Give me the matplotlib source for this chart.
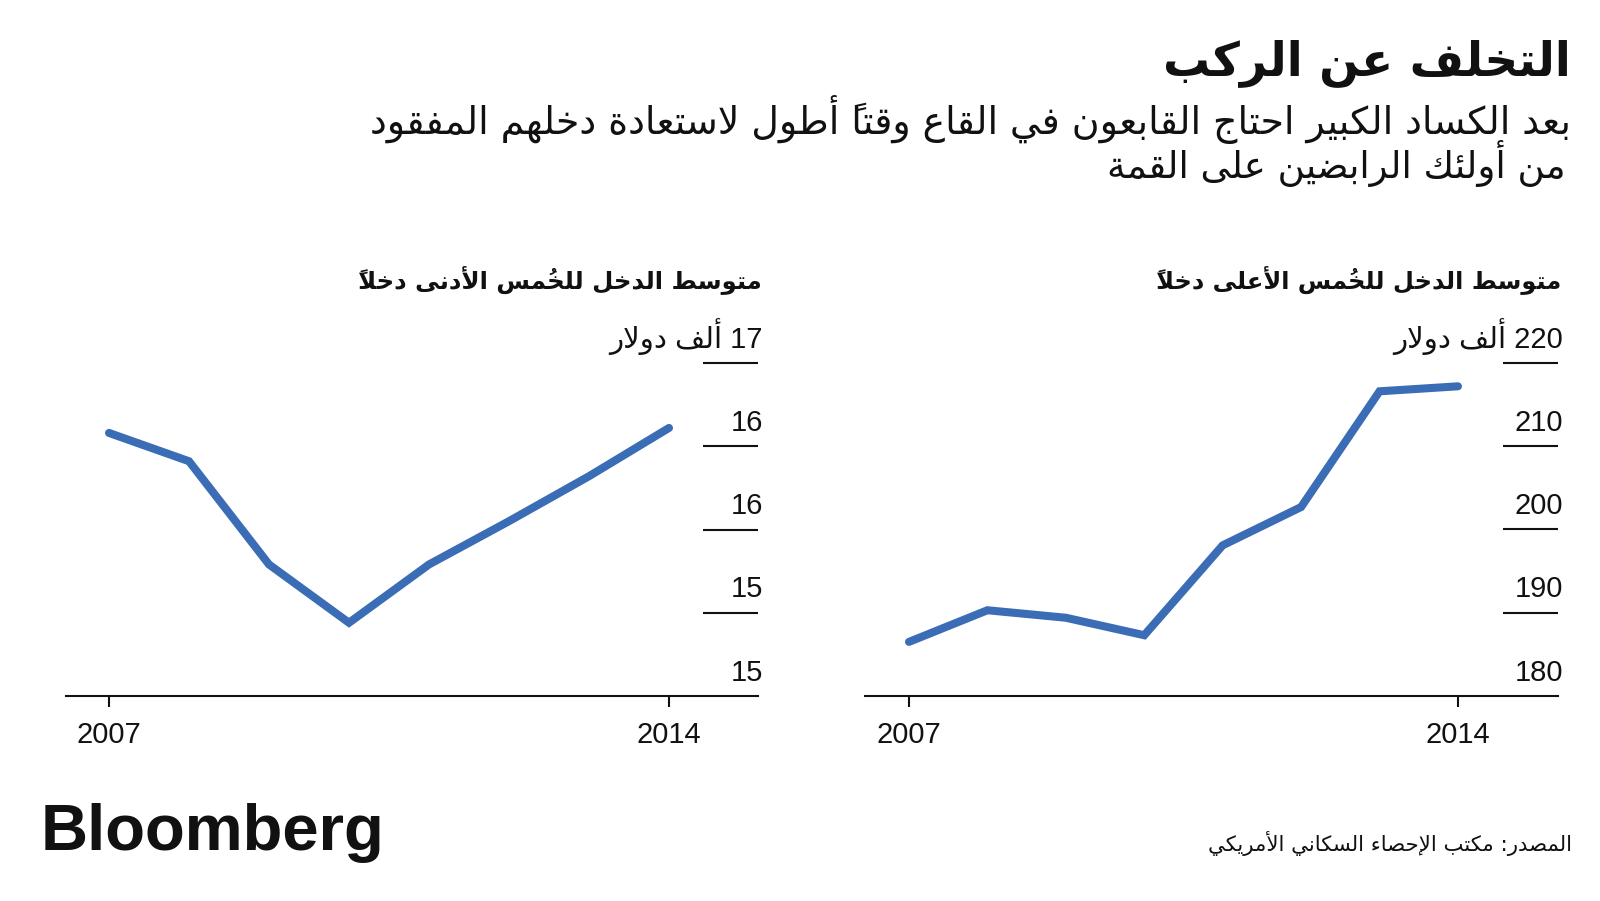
import matplotlib
matplotlib.use('Agg')
import matplotlib.pyplot as plt

# ---------------- data ----------------
years = [2007, 2008, 2009, 2010, 2011, 2012, 2013, 2014]
bottom_income = [16.58, 16.41, 15.79, 15.44, 15.79, 16.05, 16.32, 16.61]
top_income = [186.5, 190.3, 189.4, 187.3, 198.1, 202.7, 216.6, 217.2]
bottom_ticks = [15, 15.5, 16, 16.5, 17]
bottom_tick_labels = ['15', '15', '16', '16', '17 ألف دولار']
top_ticks = [180, 190, 200, 210, 220]
top_tick_labels = ['180', '190', '200', '210', '220 ألف دولار']
xtick_years = [2007, 2014]
xtick_labels = ['2007', '2014']

title = 'التخلف عن الركب'
subtitle_lines = ['بعد الكساد الكبير احتاج القابعون في القاع وقتاً أطول لاستعادة دخلهم المفقود',
                  'من أولئك الرابضين على القمة']
panel_titles = ['متوسط الدخل للخُمس الأدنى دخلاً', 'متوسط الدخل للخُمس الأعلى دخلاً']
source = 'المصدر: مكتب الإحصاء السكاني الأمريكي'
brand = 'Bloomberg'

# ---------------- Arabic shaping (presentation forms + RTL order) ----------------
DUAL = {'ئ': 0xFE89, 'ب': 0xFE8F, 'ت': 0xFE95, 'ث': 0xFE99, 'ج': 0xFE9D, 'ح': 0xFEA1,
        'خ': 0xFEA5, 'س': 0xFEB1, 'ش': 0xFEB5, 'ص': 0xFEB9, 'ض': 0xFEBD, 'ط': 0xFEC1,
        'ظ': 0xFEC5, 'ع': 0xFEC9, 'غ': 0xFECD, 'ف': 0xFED1, 'ق': 0xFED5, 'ك': 0xFED9,
        'ل': 0xFEDD, 'م': 0xFEE1, 'ن': 0xFEE5, 'ه': 0xFEE9, 'ي': 0xFEF1}
RIGHT = {'آ': 0xFE81, 'أ': 0xFE83, 'ؤ': 0xFE85, 'إ': 0xFE87, 'ا': 0xFE8D, 'ة': 0xFE93,
         'د': 0xFEA9, 'ذ': 0xFEAB, 'ر': 0xFEAD, 'ز': 0xFEAF, 'و': 0xFEED, 'ى': 0xFEEF}
LAM_ALEF = {'آ': 0xFEF5, 'أ': 0xFEF7, 'إ': 0xFEF9, 'ا': 0xFEFB}
MARKS = set(chr(c) for c in range(0x064B, 0x0653))


def _is_ar(ch):
    return ch in DUAL or ch in RIGHT or ch == 'ء' or ch in MARKS


def shape_word(word):
    clusters = []
    for ch in word:
        if ch in MARKS and clusters:
            clusters[-1][1] += ch
        else:
            clusters.append([ch, ''])
    merged = []
    i = 0
    while i < len(clusters):
        b, m = clusters[i]
        if b == 'ل' and i + 1 < len(clusters) and clusters[i + 1][0] in LAM_ALEF:
            merged.append(['LA' + clusters[i + 1][0], m + clusters[i + 1][1]])
            i += 2
        else:
            merged.append([b, m])
            i += 1

    def jl(b):
        return b in DUAL

    def jr(b):
        return b in DUAL or b in RIGHT or (len(b) > 1 and b.startswith('LA'))

    out = []
    for k, (b, m) in enumerate(merged):
        prev = merged[k - 1][0] if k > 0 else None
        nxt = merged[k + 1][0] if k + 1 < len(merged) else None
        p = prev is not None and jl(prev) and jr(b)
        n = nxt is not None and jl(b) and jr(nxt)
        if len(b) > 1 and b.startswith('LA'):
            g = chr(LAM_ALEF[b[2]] + (1 if p else 0))
        elif b in DUAL:
            g = chr(DUAL[b] + (3 if (p and n) else 1 if p else 2 if n else 0))
        elif b in RIGHT:
            g = chr(RIGHT[b] + (1 if p else 0))
        elif b == 'ء':
            g = '\uFE80'
        else:
            g = b
        # mark placed before its base in visual order so it sits over the base
        out.append(m + g)
    return ''.join(reversed(out))


def ar(line):
    words = line.split(' ')
    vis = [shape_word(w) if any(_is_ar(c) for c in w) else w for w in words]
    return ' '.join(reversed(vis))


# ---------------- figure ----------------
W, H = 1600, 901
fig = plt.figure(figsize=(16, 9.01), dpi=100)
fig.patch.set_facecolor('white')
renderer = fig.canvas.get_renderer()

AR = ['DejaVu Sans']
NUM = ['Liberation Sans', 'DejaVu Sans']
INK = '#111111'
BLUE = '#3b6db6'


def fx(x):
    return x / W


def fy(y):
    return 1 - y / H


def fit_width(t, target):
    w = t.get_window_extent(renderer).width
    t.set_fontsize(t.get_fontsize() * target / w)


t = fig.text(fx(1571), fy(75), ar(title), ha='right', va='baseline', family=AR,
             fontweight='bold', fontsize=36, color=INK)
fit_width(t, 408)
t = fig.text(fx(1571), fy(134), ar(subtitle_lines[0]), ha='right', va='baseline', family=AR,
             fontsize=22, color=INK)
fit_width(t, 1202)
t = fig.text(fx(1566), fy(178), ar(subtitle_lines[1]), ha='right', va='baseline', family=AR,
             fontsize=22, color=INK)
fit_width(t, 459)

panels = [
    dict(pos=[66, 692], xlim=(2006.4625, 2015.1125), ylim=(15, 17), vals=bottom_income,
         ticks=bottom_ticks, labels=bottom_tick_labels, title=panel_titles[0], tright=762),
    dict(pos=[865, 693], xlim=(2006.439, 2015.2755), ylim=(180, 220), vals=top_income,
         ticks=top_ticks, labels=top_tick_labels, title=panel_titles[1], tright=1561),
]

ax_top, ax_bot = 363, 696
for p in panels:
    left, width = p['pos']
    ax = fig.add_axes([fx(left), fy(ax_bot), width / W, (ax_bot - ax_top) / H])
    ax.set_xlim(*p['xlim'])
    ax.set_ylim(*p['ylim'])
    for s in ['top', 'right', 'left']:
        ax.spines[s].set_visible(False)
    ax.spines['bottom'].set_linewidth(1.5)
    ax.spines['bottom'].set_color(INK)
    ax.set_yticks([])
    ax.set_xticks(xtick_years)
    ax.set_xticklabels(xtick_labels, fontfamily=NUM)
    ax.tick_params(axis='x', length=8, width=1.5, color=INK, direction='out', pad=10,
                   labelsize=21, labelcolor=INK)
    ax.patch.set_alpha(0)
    ax.plot(years, p['vals'], color=BLUE, lw=5.8, solid_capstyle='round',
            solid_joinstyle='miter', clip_on=False, zorder=3)
    trans = ax.get_yaxis_transform()
    for v in p['ticks'][1:]:
        ax.plot([0.921, 1.0], [v, v], transform=trans, color=INK, lw=1.5,
                clip_on=False, solid_capstyle='butt')
    for v, lab in zip(p['ticks'], p['labels']):
        ax.annotate(ar(lab), xy=(1.007, v), xycoords=trans, xytext=(0, 11),
                    textcoords='offset points', ha='right', va='baseline',
                    fontfamily=NUM, fontsize=21, color=INK, annotation_clip=False)
    t = fig.text(fx(p['tright']), fy(288), ar(p['title']), ha='right', va='baseline',
                 family=AR, fontweight='bold', fontsize=16, color=INK)
    fit_width(t, 405)

fig.text(fx(41), fy(850), brand, ha='left', va='baseline', family=['Liberation Sans', 'DejaVu Sans'],
         fontweight='bold', fontsize=47, color=INK)
t = fig.text(fx(1572), fy(851), ar(source), ha='right', va='baseline', family=AR,
             fontsize=13, color=INK)
fit_width(t, 365)

fig.savefig('out.png', dpi=100, facecolor='white')
